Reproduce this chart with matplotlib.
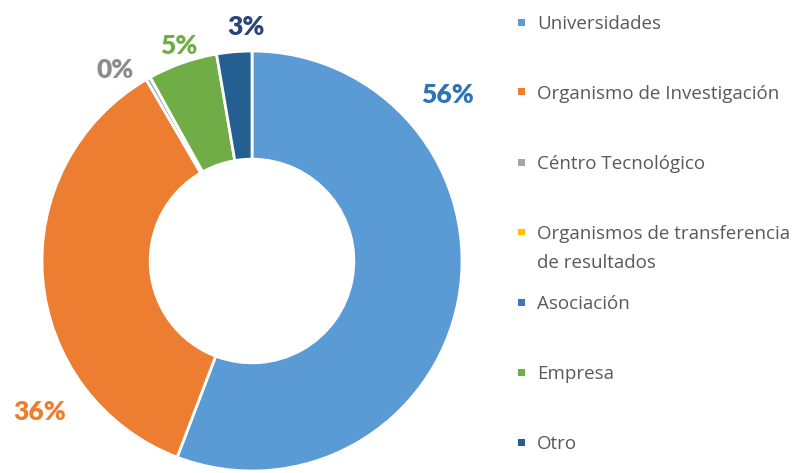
import numpy as np
import matplotlib
matplotlib.use('Agg')
import matplotlib.pyplot as plt
from matplotlib.patches import Rectangle

plt.rcParams['font.family'] = ['Lato', 'DejaVu Sans']

# datos (%)
categorias = ['Universidades', 'Organismo de Investigación', 'Céntro Tecnológico',
              'Organismos de transferencia\nde resultados', 'Asociación', 'Empresa', 'Otro']
valores = [55.8, 35.8, 0.35, 0.0, 0.0, 5.35, 2.7]
colores = ['#5B9BD5', '#ED7D31', '#A5A5A5', '#FFC000', '#4472C4', '#70AD47', '#255E91']
# etiquetas de porcentaje (solo las que aparecen)
etiqueta_color = {0: '#2E75B6', 1: '#ED7D31', 2: '#8C8C8C', 5: '#70AD47', 6: '#2B4479'}
etiqueta_desv = {0: -50.8, 1: -30.8, 2: -6.0, 5: 0.5, 6: 3.4}   # grados respecto al centro de la cuña
etiqueta_dist = {0: 1.22, 1: 1.24, 2: 1.12, 5: 1.08, 6: 1.115}

W, H = 806, 473
fig = plt.figure(figsize=(W / 100, H / 100), dpi=100)
cx, cy, R = 252, 261, 210   # centro y radio en pixeles
ax = fig.add_axes([(cx - R) / W, (H - cy - R) / H, 2 * R / W, 2 * R / H])

wedges, _ = ax.pie(valores, colors=colores, startangle=90, counterclock=False, radius=1,
                   wedgeprops=dict(width=0.515, edgecolor='white', linewidth=2))
ax.set_xlim(-1, 1)
ax.set_ylim(-1, 1)
ax.set_aspect('auto')
ax.axis('off')

for i, w in enumerate(wedges):
    if i not in etiqueta_color:
        continue
    mid = (w.theta1 + w.theta2) / 2.0
    ang = np.deg2rad(mid - etiqueta_desv[i])
    d = etiqueta_dist[i]
    ax.text(d * np.cos(ang), d * np.sin(ang), '%d%%' % round(valores[i]),
            ha='center', va='center', fontsize=19, fontweight='heavy',
            color=etiqueta_color[i], clip_on=False)

# leyenda
y0, paso, interlinea = 22, 70, 29
for i, (lab, col) in enumerate(zip(categorias, colores)):
    y = y0 + i * paso
    fig.patches.append(Rectangle((518 / W, 1 - (y + 3.5) / H), 7 / W, 7 / H,
                                 transform=fig.transFigure, facecolor=col, edgecolor='none'))
    for k, linea in enumerate(lab.split('\n')):
        fig.text(537 / W, 1 - (y + k * interlinea) / H, linea, ha='left',
                 va='center_baseline', fontsize=13.5,
                 family=['Open Sans', 'DejaVu Sans'], color='#595959')

fig.savefig('out.png', dpi=100)
